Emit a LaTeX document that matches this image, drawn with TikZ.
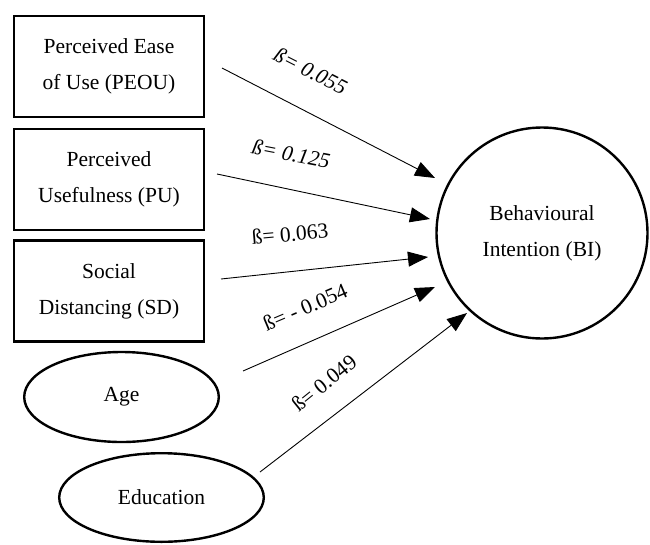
\documentclass[tikz,border=0pt]{standalone}
\usepackage{fontspec}
\setmainfont{Liberation Serif}
\usetikzlibrary{arrows.meta,shapes.geometric}
\begin{document}
\begin{tikzpicture}[x=1pt,y=-1pt,
  every node/.style={font=\fontsize{21.5}{36}\selectfont},
  factor/.style={draw, line width=2.6pt, minimum width=190pt, minimum height=101pt,
                 align=center, inner sep=0pt},
  ctrl/.style={draw, ellipse, line width=2.4pt, inner sep=0pt},
  outcome/.style={draw, circle, line width=2.4pt, minimum size=211pt, align=center, inner sep=0pt},
  effect/.style={line width=0.9pt, -{Triangle[length=20pt,width=15pt]}},
  coef/.style={inner sep=1pt}]
  \useasboundingbox (0,0) rectangle (650,544);

  % predictors
  \node[factor] (peou) at (109,66.5) {Perceived Ease\\of Use (PEOU)};
  \node[factor] (pu)   at (109,179.5) {Perceived\\Usefulness (PU)};
  \node[factor] (sd)   at (109,291) {Social\\Distancing (SD)};
  \node[ctrl, minimum width=194.6pt, minimum height=90pt] (age) at (121.5,397) {Age};
  \node[ctrl, minimum width=204.6pt, minimum height=88.6pt] (edu) at (161.5,497.5) {Education};

  % outcome
  \node[outcome] (bi) at (542,233) {Behavioural\\Intention (BI)};

  % arrow end points
  \coordinate (s1) at (222,68);  \coordinate (e1) at (435,178);
  \coordinate (s2) at (217,174); \coordinate (e2) at (430,219);
  \coordinate (s3) at (221,279); \coordinate (e3) at (428,257);
  \coordinate (s4) at (243,371); \coordinate (e4) at (435,287);
  \coordinate (s5) at (260,472); \coordinate (e5) at (467,313);

  \draw[effect] (s1) -- (e1);
  \draw[effect] (s2) -- (e2);
  \draw[effect] (s3) -- (e3);
  \draw[effect] (s4) -- (e4);
  \draw[effect] (s5) -- (e5);

  % path coefficients
  \node[coef, rotate=-27] (c1) at (310.7,70.7) {\itshape ß= 0.055};
  \node[coef, rotate=-11] (c2) at (291,154) {\itshape ß= 0.125};
  \node[coef, rotate=5]   (c3) at (290,234) {ß= 0.063};
  \node[coef, rotate=23]  (c4) at (305,307) {ß= - 0.054};
  \node[coef, rotate=39]  (c5) at (324,383) {ß= 0.049};
\end{tikzpicture}
\end{document}
